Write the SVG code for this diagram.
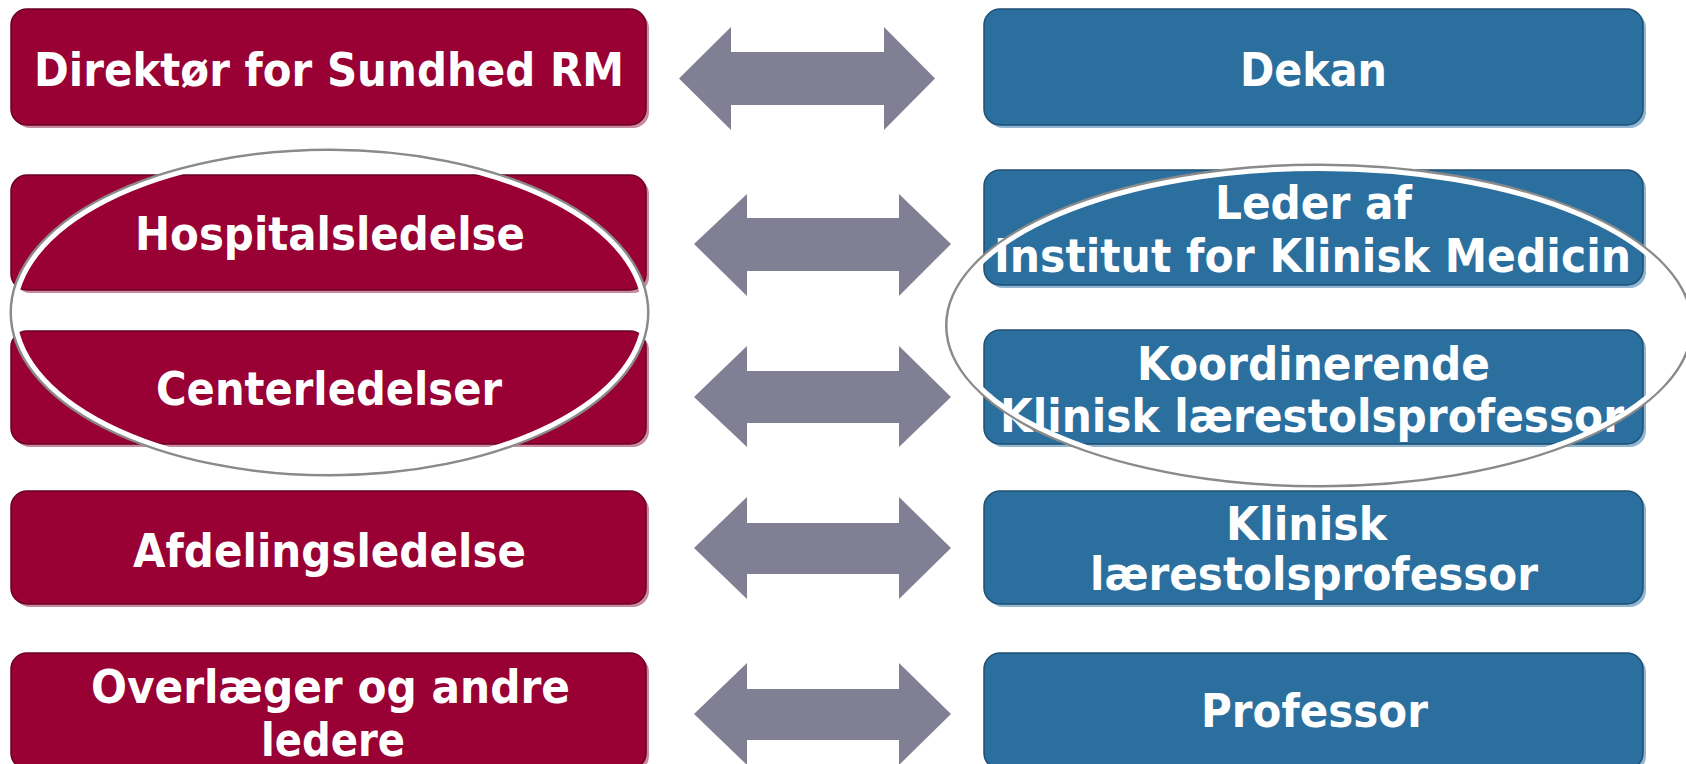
<svg xmlns="http://www.w3.org/2000/svg" width="1686" height="764" viewBox="0 0 1686 764">
<style>
.red{fill:#990033;stroke:#6a0024;stroke-width:1.5}
.redsh{fill:#c98aa0}
.blue{fill:#2b6f9f;stroke:#1f4f72;stroke-width:1.5}
.bluesh{fill:#8fb6d3}
.arr{fill:#817f93}
text{font-family:"DejaVu Sans","Liberation Sans",sans-serif;font-weight:bold;font-size:47px;fill:#ffffff;text-anchor:middle}
.ring-sh{fill:none;stroke:#8a8a8a;stroke-width:3}
.ring{fill:none;stroke:#ffffff;stroke-width:5}
</style>
<rect width="1686" height="764" fill="#ffffff"/>
<g id="connectors">
<polygon class="arr" points="679,78.5 731,27 731,52 884,52 884,27 935,78.5 884,130 884,105 731,105 731,130"/>
<polygon class="arr" points="694,244 747,194 747,218 899,218 899,194 951,244 899,296 899,271 747,271 747,296"/>
<polygon class="arr" points="694,397 747,346 747,371 899,371 899,346 951,397 899,447 899,423 747,423 747,447"/>
<polygon class="arr" points="694,548 747,497 747,523 899,523 899,497 951,548 899,599 899,574 747,574 747,599"/>
<polygon class="arr" points="694,714 747,663 747,689 899,689 899,663 951,714 899,765 899,740 747,740 747,765"/>
</g>
<g id="n-direktor">
<rect class="redsh" x="14" y="12" width="635" height="116" rx="16"/>
<rect class="red" x="11" y="9" width="635" height="116" rx="16"/>
<text x="329" y="86" textLength="590" lengthAdjust="spacingAndGlyphs">Direktør for Sundhed RM</text>
</g>
<g id="n-hospital">
<rect class="redsh" x="14" y="178" width="635" height="115" rx="16"/>
<rect class="red" x="11" y="175" width="635" height="115" rx="16"/>
<text x="330" y="249.5" textLength="390" lengthAdjust="spacingAndGlyphs">Hospitalsledelse</text>
</g>
<g id="n-center">
<rect class="redsh" x="14" y="334" width="635" height="113" rx="16"/>
<rect class="red" x="11" y="331" width="635" height="113" rx="16"/>
<text x="329" y="405" textLength="346" lengthAdjust="spacingAndGlyphs">Centerledelser</text>
</g>
<g id="n-afdeling">
<rect class="redsh" x="14" y="494" width="635" height="113" rx="16"/>
<rect class="red" x="11" y="491" width="635" height="113" rx="16"/>
<text x="329.5" y="567" textLength="393" lengthAdjust="spacingAndGlyphs">Afdelingsledelse</text>
</g>
<g id="n-overlaeger">
<rect class="redsh" x="14" y="656" width="635" height="116" rx="16"/>
<rect class="red" x="11" y="653" width="635" height="116" rx="16"/>
<text x="330.5" y="703" textLength="479" lengthAdjust="spacingAndGlyphs">Overlæger og andre</text>
<text x="333" y="756" textLength="144" lengthAdjust="spacingAndGlyphs">ledere</text>
</g>
<g id="n-dekan">
<rect class="bluesh" x="987" y="12" width="659" height="116" rx="16"/>
<rect class="blue" x="984" y="9" width="659" height="116" rx="16"/>
<text x="1313.5" y="86" textLength="147" lengthAdjust="spacingAndGlyphs">Dekan</text>
</g>
<g id="n-leder">
<rect class="bluesh" x="987" y="173" width="659" height="115" rx="16"/>
<rect class="blue" x="984" y="170" width="659" height="115" rx="16"/>
<text x="1313.5" y="219" textLength="197" lengthAdjust="spacingAndGlyphs">Leder af</text>
<text x="1312.5" y="272" textLength="637" lengthAdjust="spacingAndGlyphs">Institut for Klinisk Medicin</text>
</g>
<g id="n-koordinerende">
<rect class="bluesh" x="987" y="333" width="659" height="114" rx="16"/>
<rect class="blue" x="984" y="330" width="659" height="114" rx="16"/>
<text x="1313.5" y="380" textLength="353" lengthAdjust="spacingAndGlyphs">Koordinerende</text>
<text x="1312" y="432" textLength="624" lengthAdjust="spacingAndGlyphs">Klinisk lærestolsprofessor</text>
</g>
<g id="n-klinisk">
<rect class="bluesh" x="987" y="494" width="659" height="113" rx="16"/>
<rect class="blue" x="984" y="491" width="659" height="113" rx="16"/>
<text x="1306.5" y="540" textLength="161" lengthAdjust="spacingAndGlyphs">Klinisk</text>
<text x="1314" y="590" textLength="448" lengthAdjust="spacingAndGlyphs">lærestolsprofessor</text>
</g>
<g id="n-professor">
<rect class="bluesh" x="987" y="656" width="659" height="116" rx="16"/>
<rect class="blue" x="984" y="653" width="659" height="116" rx="16"/>
<text x="1314.5" y="727" textLength="227" lengthAdjust="spacingAndGlyphs">Professor</text>
</g>
<g id="ellipse-left">
<ellipse class="ring-sh" cx="329.5" cy="312.5" rx="318.5" ry="162.5"/>
<ellipse class="ring" cx="329.5" cy="312.5" rx="315" ry="159"/>
</g>
<g id="ellipse-right">
<ellipse class="ring-sh" cx="1319" cy="325.5" rx="372.5" ry="160.5"/>
<ellipse class="ring" cx="1319" cy="325.5" rx="369" ry="157"/>
</g>
</svg>
